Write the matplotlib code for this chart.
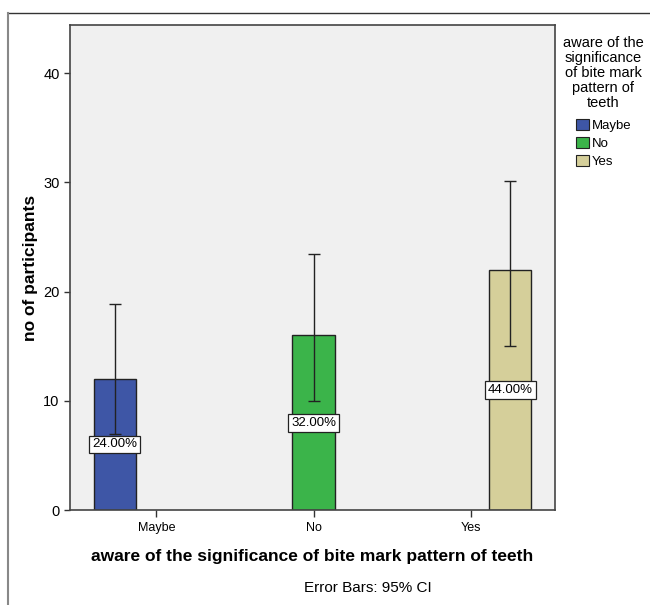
import matplotlib
matplotlib.use("Agg")
import matplotlib.pyplot as plt
from matplotlib.patches import Patch
from matplotlib.lines import Line2D

plt.rcParams['font.family'] = ['Liberation Sans', 'DejaVu Sans']

# --- data ---
categories = ['Maybe', 'No', 'Yes']
counts = [12, 16, 22]
ci_low = [7.0, 10.0, 15.0]
ci_high = [18.9, 23.4, 30.1]
pct_labels = ['24.00%', '32.00%', '44.00%']
colors = ['#3E56A6', '#3BB44A', '#D5CF9A']
legend_title = 'aware of the\nsignificance\nof bite mark\npattern of\nteeth'

# SPSS clustered layout: each bar sits in its own slot of the cluster
offsets = [-0.265, 0.0, 0.25]
bar_width = 0.27

W, H = 650, 605
fig = plt.figure(figsize=(6.5, 6.05), dpi=100)
ax = fig.add_axes([0.1077, 0.157, 0.746, 0.8017])
ax.set_facecolor('#F0F0F0')

for i, cat in enumerate(categories):
    x = i + offsets[i]
    ax.bar(x, counts[i], width=bar_width, color=colors[i],
           edgecolor='#222222', linewidth=1.0, zorder=2)
    ax.errorbar(x, counts[i],
                yerr=[[counts[i] - ci_low[i]], [ci_high[i] - counts[i]]],
                fmt='none', ecolor='#222222', elinewidth=1.0,
                capsize=4.5, capthick=1.0, zorder=3)
    ax.text(x, counts[i] / 2, pct_labels[i], ha='center', va='center',
            fontsize=9.5, zorder=4,
            bbox=dict(boxstyle='square,pad=0.22', facecolor='white',
                      edgecolor='#222222', linewidth=0.9))

ax.set_xlim(-0.55, 2.535)
ax.set_ylim(0, 44.4)
ax.set_xticks(range(len(categories)))
ax.set_xticklabels(categories, fontsize=9)
ax.set_yticks([0, 10, 20, 30, 40])
ax.tick_params(axis='y', labelsize=10.5, length=4, width=1, color='#333333')
ax.tick_params(axis='x', length=5, width=1, color='#333333')

for side in ['top', 'right', 'left', 'bottom']:
    ax.spines[side].set_color('#444444')
    ax.spines[side].set_linewidth(1.2)

ax.set_xlabel('aware of the significance of bite mark pattern of teeth',
              fontsize=12.5, fontweight='bold', labelpad=11)
ax.set_ylabel('no of participants', fontsize=12.5, fontweight='bold',
              labelpad=4)

fig.text(368 / W, 1 - 588 / H, 'Error Bars: 95% CI', ha='center',
         va='center', fontsize=11)

# legend title and entries (SPSS style, title centred above)
fig.text(603 / W, 1 - 36 / H, legend_title, ha='center', va='top',
         fontsize=10.5, linespacing=1.1, multialignment='center')
handles = [Patch(facecolor=c, edgecolor='#222222', linewidth=0.8)
           for c in colors]
fig.legend(handles, categories, loc='upper left',
           bbox_to_anchor=(576 / W, 1 - 119 / H), frameon=False,
           fontsize=9.5, handlelength=0.95, handleheight=0.95,
           handletextpad=0.25, labelspacing=0.35, borderpad=0,
           borderaxespad=0)

# outer frame lines (top and left only)
y_top = 1 - 13 / H
x_left = 8 / W
fig.add_artist(Line2D([x_left, 1], [y_top, y_top], color='#333333',
                      linewidth=1.0, transform=fig.transFigure))
fig.add_artist(Line2D([x_left, x_left], [0, y_top], color='#888888',
                      linewidth=1.5, transform=fig.transFigure))

fig.savefig('out.png', dpi=100)
